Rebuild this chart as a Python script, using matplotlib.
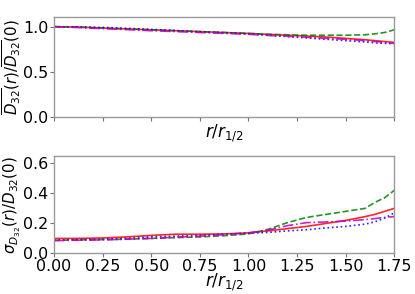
import matplotlib
matplotlib.use("Agg")
import matplotlib.pyplot as plt
import numpy as np

# radial positions r/r_1/2
x = [0.0, 0.125, 0.25, 0.375, 0.5, 0.625, 0.75, 0.875, 1.0, 1.1, 1.2, 1.3, 1.4, 1.5, 1.6, 1.65, 1.7, 1.75]

# mean D32 normalised
mean_red = [1.0, 0.995, 0.985, 0.975, 0.965, 0.955, 0.945, 0.935, 0.925, 0.915, 0.905, 0.895, 0.885, 0.87, 0.855, 0.845, 0.835, 0.825]
mean_green = [1.0, 0.995, 0.985, 0.975, 0.965, 0.955, 0.945, 0.935, 0.925, 0.915, 0.91, 0.905, 0.905, 0.905, 0.91, 0.92, 0.935, 0.965]
mean_blue = [1.0, 0.998, 0.992, 0.982, 0.97, 0.957, 0.943, 0.932, 0.92, 0.905, 0.89, 0.875, 0.86, 0.845, 0.83, 0.82, 0.815, 0.81]
mean_magenta = [1.0, 0.99, 0.978, 0.967, 0.955, 0.945, 0.935, 0.925, 0.915, 0.903, 0.893, 0.883, 0.87, 0.86, 0.845, 0.835, 0.825, 0.815]

# std D32 normalised
std_red = [0.10, 0.10, 0.103, 0.11, 0.12, 0.128, 0.128, 0.13, 0.137, 0.15, 0.165, 0.18, 0.2, 0.22, 0.245, 0.26, 0.28, 0.30]
std_green = [0.087, 0.09, 0.092, 0.095, 0.10, 0.105, 0.11, 0.118, 0.13, 0.16, 0.205, 0.24, 0.26, 0.28, 0.30, 0.34, 0.37, 0.42]
std_blue = [0.09, 0.092, 0.095, 0.10, 0.11, 0.115, 0.12, 0.128, 0.135, 0.14, 0.15, 0.158, 0.17, 0.18, 0.195, 0.21, 0.235, 0.27]
std_magenta = [0.085, 0.088, 0.09, 0.095, 0.10, 0.108, 0.115, 0.125, 0.137, 0.155, 0.185, 0.205, 0.21, 0.215, 0.225, 0.232, 0.24, 0.245]

xticks = [0.0, 0.25, 0.5, 0.75, 1.0, 1.25, 1.5, 1.75]

tick_fs = 11.4
label_fs = 12.0
ylabel_fs = 10.8

fig = plt.figure(figsize=(4.15, 2.94), dpi=100)
ax1 = fig.add_axes([0.130, 0.603, 0.820, 0.340])
ax2 = fig.add_axes([0.130, 0.138, 0.820, 0.332])

styles = [('red', '-'), ('green', '--'), ('blue', ':'), ('m', '-.')]

for ys, (c, ls) in zip([mean_red, mean_green, mean_blue, mean_magenta], styles):
    ax1.plot(x, ys, color=c, ls=ls, lw=1.2, alpha=0.85)
for ys, (c, ls) in zip([std_red, std_green, std_blue, std_magenta], styles):
    ax2.plot(x, ys, color=c, ls=ls, lw=1.2, alpha=0.85)

for ax in (ax1, ax2):
    ax.set_xlim(0, 1.75)
    ax.set_xticks(xticks)
    for s in ax.spines.values():
        s.set_color('0.6')
        s.set_linewidth(1.0)
    ax.tick_params(colors='0.45', labelcolor='black', length=3, pad=1, labelsize=tick_fs)

ax1.set_xlabel(r'$r/r_{1/2}$', fontsize=label_fs, labelpad=0)
ax2.set_xlabel(r'$r/r_{1/2}$', fontsize=label_fs, labelpad=-2)

ax1.set_ylim(0, 1.11)
ax1.set_yticks([0.0, 0.5, 1.0])
ax1.set_xticklabels([])
ax1.set_ylabel(r'$\overline{D_{32}}(r)/\overline{D_{32}}(0)$', fontsize=ylabel_fs, labelpad=0)

ax2.set_ylim(0, 0.65)
ax2.set_yticks([0.0, 0.2, 0.4, 0.6])
ax2.set_xticklabels(['0.00', '0.25', '0.50', '0.75', '1.00', '1.25', '1.50', '1.75'])
ax2.set_ylabel(r'$\sigma_{D_{32}}(r)/\overline{D_{32}}(0)$', fontsize=ylabel_fs, labelpad=0)

fig.savefig('out.png', dpi=100)
